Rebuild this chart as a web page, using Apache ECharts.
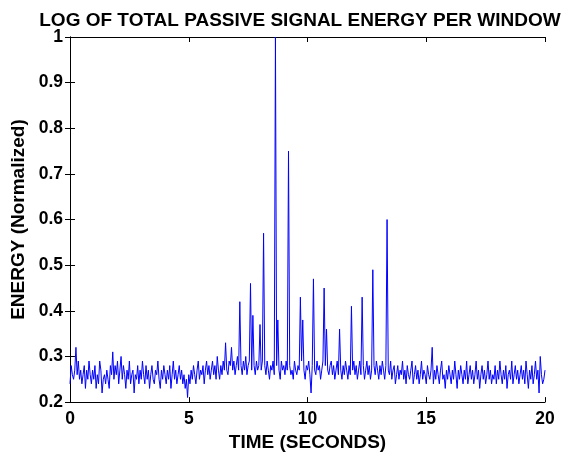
<!DOCTYPE html>
<html><head><meta charset="utf-8">
<script src="https://cdn.jsdelivr.net/npm/echarts@6/dist/echarts.min.js"></script>
<style>html,body{margin:0;padding:0;background:#fff}#c{width:577px;height:457px}</style>
</head><body><div id="c"></div>
<script>
const titleText = 'LOG OF TOTAL PASSIVE SIGNAL ENERGY PER WINDOW';
const xName = 'TIME (SECONDS)';
const yName = 'ENERGY (Normalized)';
const timeStep = 0.05;
const xTicks = [0, 5, 10, 15, 20];
const yTicks = [0.2, 0.3, 0.4, 0.5, 0.6, 0.7, 0.8, 0.9, 1];
const energy = [
 0.24,0.28,0.26,0.25,0.27,0.32,0.26,0.29,0.25,0.27,0.24,0.26,0.28,0.23,0.27,0.25,0.29,0.26,0.24,0.27,
 0.25,0.28,0.23,0.26,0.24,0.29,0.27,0.22,0.25,0.26,0.24,0.27,0.25,0.23,0.28,0.26,0.31,0.25,0.28,0.26,
 0.29,0.24,0.27,0.30,0.25,0.28,0.26,0.23,0.27,0.25,0.29,0.24,0.26,0.27,0.22,0.26,0.25,0.28,0.24,0.27,
 0.25,0.29,0.26,0.24,0.28,0.25,0.27,0.23,0.26,0.28,0.25,0.24,0.27,0.26,0.29,0.25,0.23,0.27,0.25,0.28,
 0.26,0.24,0.27,0.25,0.28,0.23,0.26,0.29,0.25,0.27,0.24,0.26,0.28,0.25,0.27,0.24,0.26,0.23,0.25,0.21,
 0.26,0.24,0.27,0.25,0.28,0.26,0.24,0.27,0.29,0.25,0.27,0.26,0.28,0.24,0.27,0.29,0.26,0.28,0.25,0.27,
 0.29,0.26,0.28,0.25,0.30,0.27,0.25,0.28,0.26,0.29,0.27,0.33,0.27,0.26,0.29,0.28,0.32,0.27,0.29,0.26,
 0.28,0.30,0.27,0.42,0.28,0.26,0.29,0.27,0.30,0.26,0.28,0.29,0.46,0.27,0.39,0.28,0.26,0.29,0.27,0.28,
 0.37,0.27,0.29,0.57,0.28,0.26,0.29,0.27,0.25,0.28,0.27,0.29,0.26,1.00,0.28,0.38,0.27,0.25,0.29,0.27,
 0.28,0.26,0.29,0.27,0.75,0.28,0.26,0.27,0.25,0.29,0.27,0.26,0.28,0.27,0.43,0.29,0.38,0.27,0.25,0.28,
 0.27,0.29,0.26,0.22,0.28,0.47,0.27,0.26,0.29,0.27,0.28,0.25,0.27,0.29,0.45,0.28,0.36,0.27,0.26,0.28,
 0.29,0.26,0.28,0.25,0.27,0.29,0.26,0.36,0.27,0.25,0.28,0.26,0.29,0.27,0.25,0.28,0.26,0.41,0.27,0.29,
 0.26,0.28,0.25,0.27,0.29,0.26,0.43,0.28,0.25,0.27,0.29,0.26,0.28,0.25,0.27,0.49,0.28,0.26,0.29,0.27,
 0.25,0.28,0.26,0.29,0.27,0.25,0.28,0.60,0.27,0.26,0.29,0.25,0.27,0.28,0.24,0.26,0.28,0.25,0.27,0.26,
 0.29,0.25,0.27,0.24,0.28,0.26,0.25,0.27,0.29,0.24,0.26,0.28,0.25,0.27,0.24,0.26,0.29,0.25,0.27,0.26,
 0.24,0.28,0.26,0.25,0.27,0.32,0.24,0.27,0.25,0.28,0.26,0.24,0.27,0.29,0.25,0.26,0.23,0.27,0.25,0.28,
 0.26,0.24,0.27,0.25,0.29,0.26,0.23,0.27,0.25,0.28,0.26,0.24,0.27,0.25,0.29,0.24,0.26,0.28,0.25,0.27,
 0.24,0.26,0.29,0.25,0.27,0.23,0.26,0.28,0.25,0.27,0.24,0.26,0.29,0.25,0.27,0.24,0.26,0.25,0.28,0.24,
 0.27,0.25,0.29,0.26,0.24,0.27,0.25,0.28,0.23,0.26,0.27,0.25,0.29,0.24,0.26,0.28,0.25,0.27,0.24,0.26,
 0.28,0.25,0.27,0.24,0.29,0.26,0.23,0.27,0.25,0.28,0.24,0.26,0.29,0.25,0.27,0.22,0.30,0.26,0.24,0.25,
 0.27
];

const data = energy.map((v, i) => [+(i * timeStep).toFixed(2), v]);
const font = 'Liberation Sans, Arial, Helvetica, sans-serif';
const lbl = {color: '#000', fontWeight: 'bold', fontSize: 17.5, fontFamily: font};
const nameLbl = {color: '#000', fontWeight: 'bold', fontSize: 19, fontFamily: font};
const axLine = {show: true, lineStyle: {color: '#000', width: 1}};
const tick = {show: true, inside: true, length: 5, lineStyle: {color: '#000'}};

const chart = echarts.init(document.getElementById('c'), null, {renderer: 'canvas'});
chart.setOption({
  animation: false,
  backgroundColor: '#fff',
  title: {text: titleText, left: 295, top: 6, textAlign: 'center',
    textStyle: {color: '#000', fontWeight: 'bold', fontSize: 19, fontFamily: font}},
  grid: {left: 70, right: 32, top: 37, bottom: 49, containLabel: false},
  xAxis: [
    {type: 'value', min: xTicks[0], max: xTicks[xTicks.length-1], interval: 5, position: 'bottom',
     axisLine: axLine, axisTick: tick, splitLine: {show: false},
     axisLabel: Object.assign({margin: 8}, lbl),
     name: xName, nameLocation: 'middle', nameGap: 30, nameTextStyle: nameLbl},
    {type: 'value', min: xTicks[0], max: xTicks[xTicks.length-1], interval: 5, position: 'top',
     axisLine: axLine, axisTick: tick, splitLine: {show: false}, axisLabel: {show: false}}
  ],
  yAxis: [
    {type: 'value', min: yTicks[0], max: yTicks[yTicks.length-1], interval: 0.1, position: 'left',
     axisLine: axLine, axisTick: tick, splitLine: {show: false},
     axisLabel: Object.assign({margin: 7, formatter: v => String(+v.toFixed(1))}, lbl),
     name: yName, nameLocation: 'middle', nameGap: 41, nameRotate: 90, nameTextStyle: nameLbl},
    {type: 'value', min: yTicks[0], max: yTicks[yTicks.length-1], interval: 0.1, position: 'right',
     axisLine: axLine, axisTick: tick, splitLine: {show: false}, axisLabel: {show: false}}
  ],
  series: [{type: 'line', data: data, xAxisIndex: 0, yAxisIndex: 0, showSymbol: false,
    symbol: 'none', lineStyle: {color: '#0000ff', width: 1}, clip: true}]
});
</script></body></html>
